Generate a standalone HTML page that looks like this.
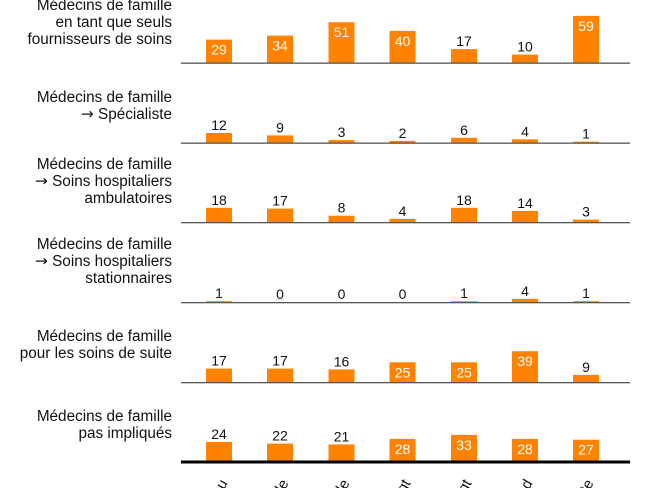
<!DOCTYPE html>
<html><head><meta charset="utf-8"><style>
html,body{margin:0;padding:0;background:#fff;width:650px;height:488px;overflow:hidden}
svg{display:block;overflow:hidden;font-family:"Liberation Sans",sans-serif}
</style></head><body>
<svg width="650" height="488" viewBox="0 0 650 488">
<g font-size="15.3" fill="#111" text-anchor="end">
<text x="172" y="10">Médecins de famille</text>
<text x="172" y="27">en tant que seuls</text>
<text x="172" y="44">fournisseurs de soins</text>
<text x="172" y="102">Médecins de famille</text>
<text x="172" y="119"><tspan font-family="DejaVu Sans">→</tspan> Spécialiste</text>
<text x="172" y="169">Médecins de famille</text>
<text x="172" y="186"><tspan font-family="DejaVu Sans">→</tspan> Soins hospitaliers</text>
<text x="172" y="203">ambulatoires</text>
<text x="172" y="249">Médecins de famille</text>
<text x="172" y="266"><tspan font-family="DejaVu Sans">→</tspan> Soins hospitaliers</text>
<text x="172" y="283">stationnaires</text>
<text x="172" y="341">Médecins de famille</text>
<text x="172" y="358">pour les soins de suite</text>
<text x="172" y="421">Médecins de famille</text>
<text x="172" y="438">pas impliqués</text>
</g>
<g fill="#ff8300">
<rect x="206" y="39.6" width="26" height="22.9"/><rect x="267" y="35.6" width="26" height="26.9"/><rect x="328.5" y="22.2" width="26" height="40.3"/><rect x="389.5" y="30.9" width="26" height="31.6"/><rect x="451" y="49.1" width="26" height="13.4"/><rect x="512" y="54.6" width="26" height="7.9"/><rect x="573" y="15.9" width="26" height="46.6"/>
<rect x="206" y="133" width="26" height="9.5"/><rect x="267" y="135.4" width="26" height="7.1"/><rect x="328.5" y="140.1" width="26" height="2.4"/><rect x="389.5" y="140.9" width="26" height="1.6"/><rect x="451" y="137.8" width="26" height="4.7"/><rect x="512" y="139.3" width="26" height="3.2"/><rect x="573" y="141.7" width="26" height="0.8"/>
<rect x="206" y="207.8" width="26" height="14.2"/><rect x="267" y="208.6" width="26" height="13.4"/><rect x="328.5" y="215.7" width="26" height="6.3"/><rect x="389.5" y="218.8" width="26" height="3.2"/><rect x="451" y="207.8" width="26" height="14.2"/><rect x="512" y="210.9" width="26" height="11.1"/><rect x="573" y="219.6" width="26" height="2.4"/>
<rect x="206" y="301.2" width="26" height="0.8"/><rect x="451" y="301.2" width="26" height="0.8"/><rect x="512" y="298.8" width="26" height="3.2"/><rect x="573" y="301.2" width="26" height="0.8"/>
<rect x="206" y="368.6" width="26" height="13.4"/><rect x="267" y="368.6" width="26" height="13.4"/><rect x="328.5" y="369.4" width="26" height="12.6"/><rect x="389.5" y="362.3" width="26" height="19.7"/><rect x="451" y="362.3" width="26" height="19.7"/><rect x="512" y="351.2" width="26" height="30.8"/><rect x="573" y="374.9" width="26" height="7.1"/>
<rect x="206" y="442" width="26" height="19"/><rect x="267" y="443.6" width="26" height="17.4"/><rect x="328.5" y="444.4" width="26" height="16.6"/><rect x="389.5" y="438.9" width="26" height="22.1"/><rect x="451" y="434.9" width="26" height="26.1"/><rect x="512" y="438.9" width="26" height="22.1"/><rect x="573" y="439.7" width="26" height="21.3"/>
</g>
<g fill="#555">
<rect x="181" y="62.5" width="449" height="1.3"/><rect x="181" y="142.5" width="449" height="1.3"/><rect x="181" y="222" width="449" height="1.3"/><rect x="181" y="302" width="449" height="1.3"/><rect x="181" y="382" width="449" height="1.3"/>
</g>
<rect x="181" y="460.5" width="449" height="3" fill="#000"/>
<g font-size="14" text-anchor="middle" fill="#fff">
<text x="219" y="54.6">29</text><text x="280" y="50.6">34</text><text x="341.5" y="37.2">51</text><text x="402.5" y="45.9">40</text><text x="586" y="30.9">59</text>
<text x="402.5" y="377.3">25</text><text x="464" y="377.3">25</text><text x="525" y="366.2">39</text>
<text x="402.5" y="453.9">28</text><text x="464" y="449.9">33</text><text x="525" y="453.9">28</text><text x="586" y="454.7">27</text>
</g>
<g font-size="14" text-anchor="middle" fill="#111">
<text x="464" y="46.1">17</text><text x="525" y="51.6">10</text>
<text x="219" y="130">12</text><text x="280" y="132.4">9</text><text x="341.5" y="137.1">3</text><text x="402.5" y="137.9">2</text><text x="464" y="134.8">6</text><text x="525" y="136.3">4</text><text x="586" y="138.7">1</text>
<text x="219" y="204.8">18</text><text x="280" y="205.6">17</text><text x="341.5" y="212.7">8</text><text x="402.5" y="215.8">4</text><text x="464" y="204.8">18</text><text x="525" y="207.9">14</text><text x="586" y="216.6">3</text>
<text x="219" y="298.2">1</text><text x="280" y="299">0</text><text x="341.5" y="299">0</text><text x="402.5" y="299">0</text><text x="464" y="298.2">1</text><text x="525" y="295.8">4</text><text x="586" y="298.2">1</text>
<text x="219" y="365.6">17</text><text x="280" y="365.6">17</text><text x="341.5" y="366.4">16</text><text x="586" y="371.9">9</text>
<text x="219" y="439">24</text><text x="280" y="440.6">22</text><text x="341.5" y="441.4">21</text>
</g>
<g font-size="15" fill="#111" text-anchor="end">
<text transform="translate(228,483) rotate(-60)">Bas revenu</text>
<text transform="translate(289,483) rotate(-60)">Femme seule</text>
<text transform="translate(350,483) rotate(-60)">Famille</text>
<text transform="translate(411,483) rotate(-60)">Inscrit ingt</text>
<text transform="translate(472,483) rotate(-60)">Plus vingt</text>
<text transform="translate(533,483) rotate(-60)">Maried</text>
<text transform="translate(594,483) rotate(-60)">Toute</text>
</g>
</svg>
</body></html>
